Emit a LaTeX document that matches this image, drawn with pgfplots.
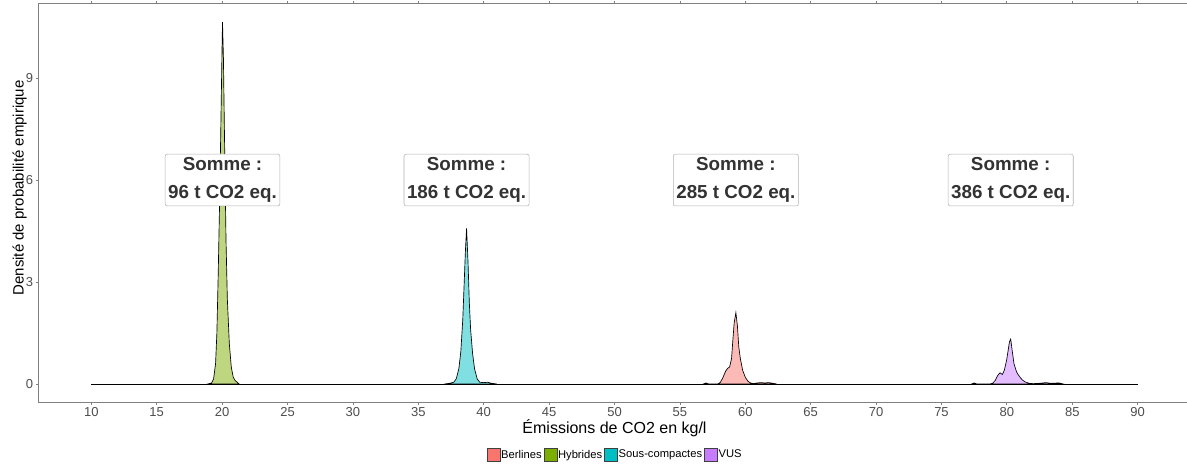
\documentclass[border=0pt]{standalone}
\usepackage{pgfplots}
\pgfplotsset{compat=1.18}
\usepackage{fontspec}
\setmainfont{Liberation Sans}
\definecolor{berl}{HTML}{F8766D}
\definecolor{hyb}{HTML}{7CAE00}
\definecolor{sous}{HTML}{00BFC4}
\definecolor{vus}{HTML}{C77CFF}
\definecolor{tickc}{HTML}{4D4D4D}
\definecolor{axc}{HTML}{808080}
\pgfplotsset{mykey/.style={legend image code/.code={\draw[##1,line width=0.6pt] (0pt,-4.875pt) rectangle (9.75pt,4.875pt);}}}
\begin{document}
\begin{tikzpicture}
\begin{axis}[
  at={(29.25pt,48.75pt)}, anchor=south west,
  width=863.25pt, height=298.5pt, scale only axis,
  xmin=6, xmax=94, ymin=-0.53, ymax=11.18,
  xtick={10,15,...,90}, ytick={0,3,6,9},
  tick align=outside, major tick length=2.25pt,
  tick style={axc, line width=0.6pt},
  axis line style={axc, line width=0.75pt},
  /pgf/number format/assume math mode=true,
  ticklabel style={font=\fontsize{9.75}{11}\selectfont, text=tickc},
  xticklabel style={inner sep=0pt, yshift=-1.5pt},
  yticklabel style={inner sep=0pt, xshift=-2pt},
  xlabel={Émissions de CO2 en kg/l},
  ylabel={Densité de probabilité empirique},
  xlabel style={font=\fontsize{12}{14}\selectfont, at={(rel axis cs:0.5,-0.0779)}, anchor=base, inner sep=0pt},
  ylabel style={font=\fontsize{11.25}{13}\selectfont, at={(rel axis cs:-0.0232,0.538)}, anchor=north, inner sep=0pt},
  legend columns=4,
  legend style={at={(rel axis cs:0.5,-0.1332)}, anchor=center, draw=none, fill=none, inner sep=0pt, outer sep=0pt,
    font=\fontsize{8.4}{10}\selectfont, nodes={inner sep=0.5pt},
    /tikz/every odd column/.append style={column sep=0pt},
    /tikz/every even column/.append style={column sep=1pt}},
]
\addplot[black, line width=0.6pt, forget plot] coordinates {(10,0) (90,0)};
% Hybrides
\addplot[draw=black, line width=0.5pt, fill=hyb, fill opacity=0.5, forget plot] coordinates {
(18.9,0) (19.2,0.03) (19.35,0.15) (19.5,0.6) (19.6,1.5) (19.7,3.2) (19.8,5.2) (19.9,7.5) (20.0,10.0) (20.03,10.65)
(20.1,9.6) (20.2,6.8) (20.3,4.2) (20.4,2.5) (20.55,1.2) (20.7,0.5) (20.85,0.2) (21.0,0.1) (21.15,0.05) (21.3,0)
} \closedcycle;
% Sous-compactes
\addplot[draw=black, line width=0.5pt, fill=sous, fill opacity=0.5, forget plot] coordinates {
(37.0,0) (37.4,0.02) (37.7,0.05) (37.9,0.15) (38.1,0.45) (38.25,0.95) (38.4,1.9) (38.5,2.9) (38.6,3.9) (38.69,4.58)
(38.8,3.6) (38.9,2.4) (39.0,1.6) (39.15,0.9) (39.3,0.45) (39.5,0.15) (39.7,0.05) (40.0,0.04) (40.3,0.05) (40.6,0.02) (41.0,0)
} \closedcycle;
% Berlines
\addplot[draw=black, line width=0.5pt, fill=berl, fill opacity=0.5, forget plot] coordinates {
(56.8,0) (57.0,0.03) (57.2,0) (57.9,0) (58.1,0.05) (58.3,0.2) (58.5,0.38) (58.65,0.46) (58.8,0.5) (58.95,0.75)
(59.05,1.3) (59.15,1.8) (59.28,2.1) (59.4,1.7) (59.5,1.1) (59.62,0.75) (59.8,0.4) (60.0,0.2) (60.2,0.08) (60.4,0.03)
(60.6,0.01) (60.9,0.03) (61.2,0.04) (61.5,0.03) (61.8,0.04) (62.1,0.02) (62.4,0)
} \closedcycle;
% VUS
\addplot[draw=black, line width=0.5pt, fill=vus, fill opacity=0.5, forget plot] coordinates {
(77.3,0) (77.5,0.03) (77.7,0) (78.7,0) (78.9,0.02) (79.1,0.1) (79.3,0.25) (79.47,0.33) (79.65,0.28) (79.8,0.4)
(79.98,0.7) (80.1,1.0) (80.2,1.25) (80.29,1.32) (80.4,1.0) (80.54,0.6) (80.7,0.4) (80.8,0.31) (81.0,0.2) (81.18,0.12)
(81.4,0.06) (81.7,0.02) (82.0,0.01) (82.5,0.02) (83.0,0.04) (83.3,0.02) (84.0,0.03) (84.3,0)
} \closedcycle;
\addlegendimage{mykey, fill=berl, draw=black!75}
\addlegendentry{Berlines}
\addlegendimage{mykey, fill=hyb, draw=black!75}
\addlegendentry{Hybrides}
\addlegendimage{mykey, fill=sous, draw=black!75}
\addlegendentry{Sous-compactes}
\addlegendimage{mykey, fill=vus, draw=black!75}
\addlegendentry{VUS}
\tikzset{lab/.style={draw=black!30, line width=0.4pt, rounded corners=1.5pt, fill=white, inner xsep=2.25pt, inner ysep=2.5pt,
  align=center, text=black!80, font=\bfseries\fontsize{14.1}{21}\selectfont}}
\node[lab] at (axis cs:20.03,6) {Somme :\\96 t CO2 eq.};
\node[lab] at (axis cs:38.69,6) {Somme :\\186 t CO2 eq.};
\node[lab] at (axis cs:59.28,6) {Somme :\\285 t CO2 eq.};
\node[lab] at (axis cs:80.29,6) {Somme :\\386 t CO2 eq.};
\end{axis}
\pgfresetboundingbox
\path (0pt,0pt) rectangle (890.25pt,350.25pt);
\end{tikzpicture}
\end{document}
